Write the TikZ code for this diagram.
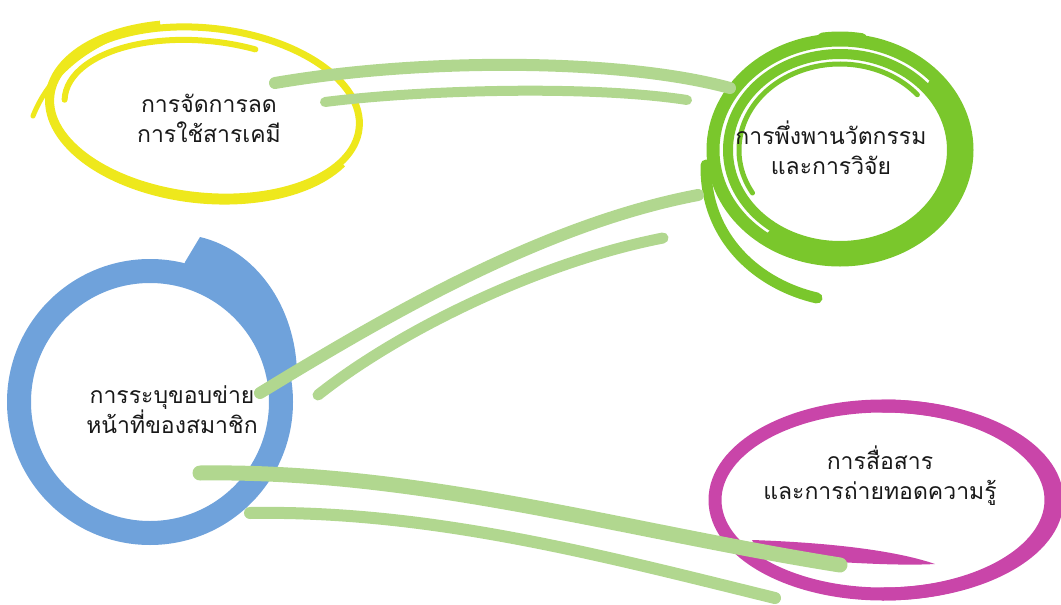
\documentclass[tikz,border=0pt]{standalone}
\usepackage{fontspec}
\newfontfamily\thaifont[Script=Thai]{Loma}
\definecolor{yel}{HTML}{EEE81C}
\definecolor{grn}{HTML}{7AC72C}
\definecolor{blu}{HTML}{6FA2DB}
\definecolor{mag}{HTML}{C945A9}
\definecolor{lgrn}{HTML}{B1D78F}
\begin{document}
\begin{tikzpicture}[x=1pt, y=-1pt, line cap=round, line join=round,
  font=\thaifont\fontsize{23}{30}\selectfont,
  lbl/.style={align=center, inner sep=0pt, text=black!90},
  band/.style={lgrn, line width=#1}]
\useasboundingbox (0,0) rectangle (1061,605);
\path
(205,112) coordinate (Y)
(840,150) coordinate (G)
(150,402) coordinate (B)
(883,500) coordinate (M);
% yellow loop
\begin{scope}[shift={(Y)}, rotate=-6]
\draw[yel, line width=7] (0,0) ellipse [x radius=155, y radius=84];
\draw[yel, line width=7, line cap=butt] (25:157 and 88) arc [start angle=25, end angle=250, x radius=157, y radius=88];
\draw[yel, line width=6] (178:141 and 71) arc [start angle=178, end angle=288, x radius=141, y radius=71];
\end{scope}
\draw[yel, line width=5] (33,116) .. controls (48,78) and (80,50) .. (122,34);
% green loop
\begin{scope}[shift={(G)}]
\draw[grn, line width=13] (0,0) ellipse [x radius=127, y radius=110];
\draw[grn, line width=10] (0,0) ellipse [x radius=112, y radius=96];
\draw[grn, line width=5] (150:101 and 86) arc [start angle=150, end angle=320, x radius=101, y radius=86];
\draw[grn, line width=8] (-40:120 and 103) arc [start angle=-40, end angle=125, x radius=120, y radius=103];
\draw[grn, line width=9] (262:128 and 114) arc [start angle=262, end angle=280, x radius=128, y radius=114];
\end{scope}
\draw[grn, line width=11] (706,165) .. controls (705,240) and (760,285) .. (817,298);
% blue loop
\draw[blu, line width=24] (B) circle [radius=131];
\fill[blu, shift={(B)}] (35,-140) -- (50,-165) .. controls (105,-152) and (145,-97) .. (147,-30)
  -- (-12:128) arc [start angle=-12, end angle=-76, radius=128] -- cycle;
% magenta loop
\begin{scope}[shift={(M)}]
\draw[mag, line width=13] (0,0) ellipse [x radius=168, y radius=94];
\draw[mag, line width=13] (-90:174 and 94) arc [start angle=-90, end angle=90, x radius=174, y radius=94];
\end{scope}
\fill[mag] (752,540) .. controls (840,543) and (900,552) .. (935,564) .. controls (900,566) and (840,563) .. (760,556) -- cycle;
% labels
\node[lbl] (ty) at (209,118) {การจัดการลด\\การใช้สารเคมี};
\node[lbl] (tg) at (831,148) {การพึ่งพานวัตกรรม\\และการวิจัย};
\node[lbl] (tb) at (172,410) {การระบุขอบข่าย\\หน้าที่ของสมาชิก};
\node[lbl] (tm) at (880,476) {การสื่อสาร\\และการถ่ายทอดความรู้};
% brush links
\path
(275,83) coordinate (Y1) (325,102) coordinate (Y2)
(730,88) coordinate (G1) (687,100) coordinate (G2)
(698,195) coordinate (G3) (663,238) coordinate (G4)
(260,393) coordinate (B1) (318,395) coordinate (B2)
(200,473) coordinate (B3) (250,513) coordinate (B4)
(840,565) coordinate (M1) (775,598) coordinate (M2);
\foreach \p/\c/\d/\q/\w in {Y1/{420,58}/{620,58}/G1/12, Y2/{420,90}/{590,85}/G2/10,
  B1/{380,320}/{540,225}/G3/12, B2/{400,330}/{540,262}/G4/11,
  B3/{420,470}/{620,530}/M1/15, B4/{430,510}/{600,555}/M2/12}
\draw[band=\w] (\p) .. controls (\c) and (\d) .. (\q);
\end{tikzpicture}
\end{document}
